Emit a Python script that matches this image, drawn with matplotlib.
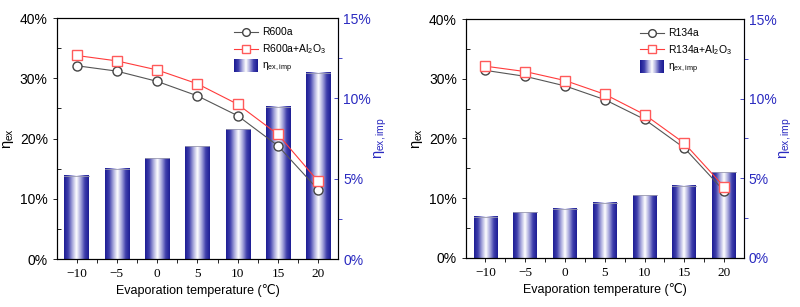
import numpy as np
import matplotlib; matplotlib.use("Agg")
import matplotlib.pyplot as plt
from matplotlib.colors import LinearSegmentedColormap
from matplotlib.patches import Rectangle
from matplotlib.legend_handler import HandlerBase
from matplotlib.ticker import PercentFormatter, MultipleLocator, FixedLocator

plt.rcParams.update({"font.family": ["Liberation Sans", "DejaVu Sans"], "font.size": 9,
                     "mathtext.fontset": "custom", "mathtext.rm": "Liberation Sans",
                     "mathtext.it": "Liberation Sans:italic"})

temps = [-10, -5, 0, 5, 10, 15, 20]
r600a = [32.1, 31.2, 29.5, 27.1, 23.8, 18.8, 11.5]
r600a_al = [33.8, 32.9, 31.4, 29.1, 25.7, 20.7, 12.9]
r600a_imp = [5.17, 5.61, 6.27, 7.02, 8.08, 9.49, 11.59]
r134a = [31.4, 30.4, 28.8, 26.5, 23.2, 18.4, 11.2]
r134a_al = [32.1, 31.2, 29.7, 27.4, 24.0, 19.2, 11.9]
r134a_imp = [2.59, 2.85, 3.10, 3.47, 3.95, 4.54, 5.38]

BLUE = "#2a2ac0"
cmap = LinearSegmentedColormap.from_list(
    "bar", ["#1c1c94", "#3f3fac", "#a8a8dc", "#ffffff", "#a8a8dc", "#3f3fac", "#1c1c94"])
grad = np.linspace(0, 1, 256).reshape(1, -1)


class GradHandler(HandlerBase):
    def create_artists(self, legend, orig, x0, y0, w, h, fontsize, trans):
        n = 24
        return [Rectangle((x0 + w * i / n, y0 - 2), w / n + 0.3, h + 4,
                          facecolor=cmap(i / (n - 1)), edgecolor="none", transform=trans)
                for i in range(n)]


def panel(ax, base, nano, imp, name):
    ax2 = ax.twinx()
    ax.set_zorder(ax2.get_zorder() + 1); ax.patch.set_visible(False)
    w = 3.0
    for t, v in zip(temps, imp):
        ax2.imshow(grad, cmap=cmap, aspect="auto", extent=(t - w / 2, t + w / 2, 0, v),
                   interpolation="bilinear", zorder=2)
        ax2.plot([t - w / 2, t + w / 2], [v, v], color="#9a9ab0", lw=0.6, zorder=3)
    ax2.set_ylim(0, 15); ax2.set_xlim(-12.45, 22.5)
    ax.set_xlim(-12.45, 22.5); ax.set_ylim(0, 40)
    l1, = ax.plot(temps, base, "-o", color="#555555", mfc="white", mec="#444444",
                  ms=6.5, lw=0.8)
    l2, = ax.plot(temps, nano, "-s", color="#ff3b3b", mfc="white", mec="#ff5a5a",
                  ms=6.5, lw=0.8)
    bar_h = Rectangle((0, 0), 1, 1)
    ax.legend([l1, l2, bar_h],
              [name, name + r"+Al$_2$O$_3$", r"$\mathregular{\eta_{ex,imp}}$"],
              handler_map={Rectangle: GradHandler()}, loc="upper right",
              bbox_to_anchor=(0.99, 1.0), frameon=False, fontsize=7.5,
              handlelength=2.3, handletextpad=0.4, labelspacing=0.45, markerscale=0.85)

    ax.set_xticks(temps)
    ax.set_xticklabels([str(t).replace("-", "\u2212") for t in temps],
                       family="Liberation Serif", fontsize=9.5)
    ax.xaxis.set_minor_locator(FixedLocator([t + 2.5 for t in temps[:-1]]))
    ax.tick_params(axis="x", which="both", direction="out", length=3, width=0.6)
    ax.yaxis.set_major_formatter(PercentFormatter(decimals=0))
    ax.set_yticks([0, 10, 20, 30, 40])
    ax.yaxis.set_minor_locator(MultipleLocator(5))
    ax.tick_params(axis="y", which="major", direction="out", length=3, width=0.6, labelsize=10)
    ax.tick_params(axis="y", which="minor", direction="in", length=3, width=0.6)
    ax.set_xlabel("Evaporation temperature (\u2103)", labelpad=3)
    ax.set_ylabel(r"$\mathregular{\eta_{ex}}$", fontsize=10.5, labelpad=3)

    ax2.yaxis.set_major_formatter(PercentFormatter(decimals=0))
    ax2.set_yticks([0, 5, 10, 15])
    ax2.yaxis.set_minor_locator(MultipleLocator(2.5))
    ax2.tick_params(axis="y", which="major", direction="in", length=3, width=0.6,
                    colors=BLUE, labelsize=10)
    ax2.tick_params(axis="y", which="minor", direction="out", length=3, width=0.6, colors=BLUE)
    ax2.set_ylabel(r"$\mathregular{\eta_{ex,imp}}$", color=BLUE, fontsize=10.5, labelpad=1)
    for a in (ax, ax2):
        for s in a.spines.values():
            s.set_linewidth(0.8)
    ax2.spines["right"].set_color(BLUE)


fig = plt.figure(figsize=(8, 3.07), dpi=100)
axL = fig.add_axes([0.071, 0.156, 0.352, 0.785])
axR = fig.add_axes([0.5825, 0.160, 0.3475, 0.778])
panel(axL, r600a, r600a_al, r600a_imp, "R600a")
panel(axR, r134a, r134a_al, r134a_imp, "R134a")
fig.savefig("out.png", dpi=100)
